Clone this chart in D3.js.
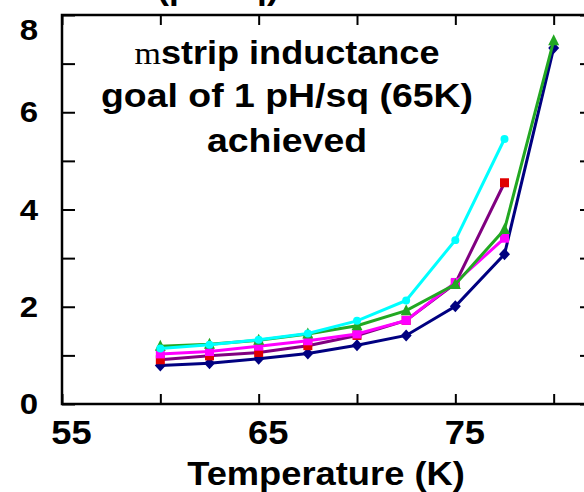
<!doctype html>
<meta charset="utf-8">
<title>mstrip inductance vs temperature</title>
<script src="https://cdn.jsdelivr.net/npm/d3@7"></script>
<style>
  body { margin: 0; background: #fff; }
  svg { display: block; }
  text { font-family: "Liberation Sans", Arial, sans-serif; font-weight: bold; fill: #000; }
</style>
<body>
<div id="chart"></div>
<script>
  // data
  const temps = [60, 62.5, 65, 67.5, 70, 72.5, 75, 77.5, 80]
  const navyVals = [0.79, 0.84, 0.93, 1.04, 1.21, 1.41, 2.01, 3.08, 7.32]
  const redVals = [0.91, 0.99, 1.06, 1.20, 1.41, 1.72, 2.48, 4.55]
  const magentaVals = [1.03, 1.08, 1.19, 1.30, 1.44, 1.72, 2.50, 3.41]
  const greenVals = [1.19, 1.23, 1.31, 1.44, 1.61, 1.92, 2.46, 3.59, 7.47]
  const cyanVals = [1.14, 1.22, 1.32, 1.45, 1.71, 2.13, 3.37, 5.45]

  const xTicks = [55, 60, 65, 70, 75, 80]
  const xLabels = [55, 65, 75]
  const yTicks = [0, 1, 2, 3, 4, 5, 6, 7, 8]
  const yLabels = [0, 2, 4, 6, 8]
  const noteLines = ["goal of 1 pH/sq (65K)", "achieved"]

  const W = 584, H = 492
  const mLeft = 62, mRight = 593, mTop = 15, mBottom = 404
  const stretch = 1.1

  const svg = d3.select('#chart').append('svg')
    .attr('width', W)
    .attr('height', H)

  const x = d3.scaleLinear().domain([55, 82]).range([mLeft, mRight])
  const y = d3.scaleLinear().domain([0, 8]).range([mBottom, mTop])

  // widen text a bit, the source picture is stretched sideways
  function widen(sel, k) {
    sel.each(function () {
      const w = this.getComputedTextLength()
      d3.select(this).attr('textLength', w * (k || stretch)).attr('lengthAdjust', 'spacingAndGlyphs')
    })
  }

  // ticks on all four sides, pointing inwards
  const gb = svg.append('g').attr('transform', `translate(0,${mBottom})`)
    .call(d3.axisBottom(x).tickValues(xTicks).tickSize(-10).tickPadding(17)
      .tickFormat(d => xLabels.includes(d) ? d : ''))
  gb.selectAll('text').style('font-size', '33px').attr('dx', 9)
  gb.selectAll('text').call(widen)

  svg.append('g').attr('transform', `translate(0,${mTop})`)
    .call(d3.axisTop(x).tickValues(xTicks).tickSize(-10).tickFormat(''))

  const gl = svg.append('g').attr('transform', `translate(${mLeft},0)`)
    .call(d3.axisLeft(y).tickValues(yTicks).tickSize(-13).tickPadding(24)
      .tickFormat(d => yLabels.includes(d) ? d : ''))
  gl.selectAll('text').style('font-size', '30px')
    .attr('dy', d => d === 8 ? '0.8em' : '0.32em')
  gl.selectAll('text').call(widen)

  svg.append('g').attr('transform', `translate(${mRight},0)`)
    .call(d3.axisRight(y).tickValues(yTicks).tickSize(-13).tickFormat(''))

  svg.selectAll('.domain').remove()
  svg.selectAll('.tick line').attr('stroke', '#000').attr('stroke-width', 2)

  // frame
  svg.append('rect')
    .attr('x', mLeft).attr('y', mTop)
    .attr('width', mRight - mLeft).attr('height', mBottom - mTop)
    .attr('fill', 'none').attr('stroke', '#000').attr('stroke-width', 2.5)

  // series
  const series = [
    { vals: navyVals, line: '#000080', fill: '#000080', shape: 'diamond' },
    { vals: redVals, line: '#800080', fill: '#e00000', shape: 'square' },
    { vals: magentaVals, line: '#ff00ff', fill: '#ff00ff', shape: 'square' },
    { vals: greenVals, line: '#22a822', fill: '#22a822', shape: 'triangle' },
    { vals: cyanVals, line: '#00ffff', fill: '#00ffff', shape: 'circle' }
  ]

  const shapes = {
    diamond: 'M0,-6L5.5,0L0,6L-5.5,0Z',
    square: 'M-4.5,-4.5H4.5V4.5H-4.5Z',
    triangle: 'M0,-6.5L5.5,4.5L-5.5,4.5Z',
    circle: d3.symbol(d3.symbolCircle, 50)()
  }

  const line = d3.line().x(d => x(d[0])).y(d => y(d[1]))

  series.forEach(s => {
    const pts = s.vals.map((v, i) => [temps[i], v])
    svg.append('path')
      .attr('d', line(pts))
      .attr('fill', 'none')
      .attr('stroke', s.line)
      .attr('stroke-width', 3)
    svg.append('g').selectAll('path')
      .data(pts)
      .enter()
      .append('path')
      .attr('transform', d => `translate(${x(d[0])},${y(d[1])})`)
      .attr('d', shapes[s.shape])
      .attr('fill', s.fill)
  })

  // annotation
  const l1 = svg.append('text')
    .attr('x', 287).attr('y', 64)
    .attr('text-anchor', 'middle')
    .style('font-size', '34px')
  l1.append('tspan').text('m')
    .style('font-family', '"Liberation Serif", "Times New Roman", serif')
    .style('font-weight', 'normal')
    .style('font-size', '32px')
  l1.append('tspan').text('strip inductance')
  l1.attr('textLength', 305).attr('lengthAdjust', 'spacingAndGlyphs')

  svg.selectAll('.note')
    .data(noteLines)
    .enter()
    .append('text')
    .attr('class', 'note')
    .attr('x', 287)
    .attr('y', (d, i) => 107 + i * 45)
    .attr('text-anchor', 'middle')
    .style('font-size', '34px')
    .text(d => d)
    .call(widen)

  // axis title
  svg.append('text')
    .attr('x', 326).attr('y', 485)
    .attr('text-anchor', 'middle')
    .style('font-size', '33px')
    .text('Temperature (K)')
    .call(widen)

  // y title, cut off at the top of the picture as in the source
  svg.append('text')
    .attr('x', 218).attr('y', -1)
    .attr('text-anchor', 'middle')
    .style('font-size', '32px')
    .text('(pH/sq)')
    .call(widen)
</script>
